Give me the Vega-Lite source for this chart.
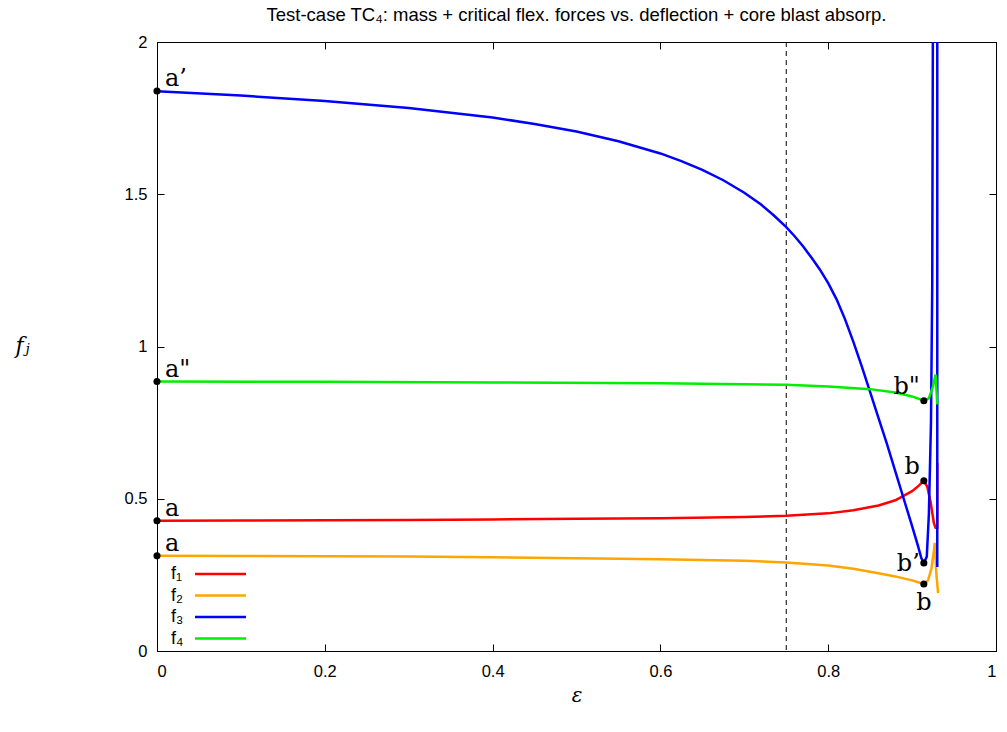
{
  "$schema": "https://vega.github.io/schema/vega-lite/v6.json",
  "width": 839,
  "height": 609,
  "autosize": "none",
  "padding": {"left": 157, "top": 42, "right": 11, "bottom": 81},
  "background": "white",
  "config": {
    "view": {"stroke": "black", "strokeWidth": 1},
    "axis": {
      "grid": false,
      "domainColor": "black",
      "tickColor": "black",
      "labelColor": "black",
      "labelFont": "Liberation Sans",
      "labelFontSize": 16.5,
      "titleColor": "black"
    }
  },
  "title": {
    "text": "Test-case TC₄: mass + critical flex. forces vs. deflection + core blast absorp.",
    "font": "Liberation Sans",
    "fontSize": 18.5,
    "fontWeight": "normal",
    "color": "black",
    "anchor": "middle",
    "offset": 10
  },
  "datasets": {
    "curves": [
      {"s": "f₁", "i": 1, "eps": 0, "f": 0.428},
      {"s": "f₁", "i": 2, "eps": 0.1, "f": 0.4285},
      {"s": "f₁", "i": 3, "eps": 0.2, "f": 0.429},
      {"s": "f₁", "i": 4, "eps": 0.3, "f": 0.430},
      {"s": "f₁", "i": 5, "eps": 0.4, "f": 0.432},
      {"s": "f₁", "i": 6, "eps": 0.5, "f": 0.434},
      {"s": "f₁", "i": 7, "eps": 0.6, "f": 0.436},
      {"s": "f₁", "i": 8, "eps": 0.7, "f": 0.440},
      {"s": "f₁", "i": 9, "eps": 0.75, "f": 0.444},
      {"s": "f₁", "i": 10, "eps": 0.8, "f": 0.452},
      {"s": "f₁", "i": 11, "eps": 0.83, "f": 0.462},
      {"s": "f₁", "i": 12, "eps": 0.86, "f": 0.478},
      {"s": "f₁", "i": 13, "eps": 0.88, "f": 0.495},
      {"s": "f₁", "i": 14, "eps": 0.9, "f": 0.525},
      {"s": "f₁", "i": 15, "eps": 0.908, "f": 0.543},
      {"s": "f₁", "i": 16, "eps": 0.914, "f": 0.559},
      {"s": "f₁", "i": 17, "eps": 0.918, "f": 0.54},
      {"s": "f₁", "i": 18, "eps": 0.922, "f": 0.49},
      {"s": "f₁", "i": 19, "eps": 0.926, "f": 0.42},
      {"s": "f₁", "i": 20, "eps": 0.928, "f": 0.405},
      {"s": "f₁", "i": 21, "eps": 0.930, "f": 0.405},
      {"s": "f₁", "i": 22, "eps": 0.930, "f": 0.617},
      {"s": "f₂", "i": 1, "eps": 0, "f": 0.3125},
      {"s": "f₂", "i": 2, "eps": 0.1, "f": 0.312},
      {"s": "f₂", "i": 3, "eps": 0.2, "f": 0.311},
      {"s": "f₂", "i": 4, "eps": 0.3, "f": 0.310},
      {"s": "f₂", "i": 5, "eps": 0.4, "f": 0.308},
      {"s": "f₂", "i": 6, "eps": 0.5, "f": 0.305},
      {"s": "f₂", "i": 7, "eps": 0.6, "f": 0.301},
      {"s": "f₂", "i": 8, "eps": 0.7, "f": 0.296},
      {"s": "f₂", "i": 9, "eps": 0.75, "f": 0.291},
      {"s": "f₂", "i": 10, "eps": 0.8, "f": 0.281},
      {"s": "f₂", "i": 11, "eps": 0.83, "f": 0.270},
      {"s": "f₂", "i": 12, "eps": 0.86, "f": 0.255},
      {"s": "f₂", "i": 13, "eps": 0.88, "f": 0.245},
      {"s": "f₂", "i": 14, "eps": 0.9, "f": 0.232},
      {"s": "f₂", "i": 15, "eps": 0.914, "f": 0.220},
      {"s": "f₂", "i": 16, "eps": 0.919, "f": 0.232},
      {"s": "f₂", "i": 17, "eps": 0.923, "f": 0.27},
      {"s": "f₂", "i": 18, "eps": 0.926, "f": 0.33},
      {"s": "f₂", "i": 19, "eps": 0.927, "f": 0.355},
      {"s": "f₂", "i": 20, "eps": 0.929, "f": 0.25},
      {"s": "f₂", "i": 21, "eps": 0.931, "f": 0.19},
      {"s": "f₃", "i": 1, "eps": 0, "f": 1.838},
      {"s": "f₃", "i": 2, "eps": 0.1, "f": 1.824},
      {"s": "f₃", "i": 3, "eps": 0.2, "f": 1.806},
      {"s": "f₃", "i": 4, "eps": 0.3, "f": 1.783},
      {"s": "f₃", "i": 5, "eps": 0.4, "f": 1.752},
      {"s": "f₃", "i": 6, "eps": 0.45, "f": 1.731},
      {"s": "f₃", "i": 7, "eps": 0.5, "f": 1.706},
      {"s": "f₃", "i": 8, "eps": 0.55, "f": 1.674},
      {"s": "f₃", "i": 9, "eps": 0.6, "f": 1.634},
      {"s": "f₃", "i": 10, "eps": 0.625, "f": 1.609},
      {"s": "f₃", "i": 11, "eps": 0.65, "f": 1.580},
      {"s": "f₃", "i": 12, "eps": 0.675, "f": 1.546},
      {"s": "f₃", "i": 13, "eps": 0.7, "f": 1.505},
      {"s": "f₃", "i": 14, "eps": 0.72, "f": 1.466},
      {"s": "f₃", "i": 15, "eps": 0.735, "f": 1.431},
      {"s": "f₃", "i": 16, "eps": 0.75, "f": 1.392},
      {"s": "f₃", "i": 17, "eps": 0.76, "f": 1.362},
      {"s": "f₃", "i": 18, "eps": 0.77, "f": 1.329},
      {"s": "f₃", "i": 19, "eps": 0.78, "f": 1.292},
      {"s": "f₃", "i": 20, "eps": 0.79, "f": 1.253},
      {"s": "f₃", "i": 21, "eps": 0.80, "f": 1.208},
      {"s": "f₃", "i": 22, "eps": 0.81, "f": 1.155},
      {"s": "f₃", "i": 23, "eps": 0.82, "f": 1.09},
      {"s": "f₃", "i": 24, "eps": 0.83, "f": 1.015},
      {"s": "f₃", "i": 25, "eps": 0.84, "f": 0.935},
      {"s": "f₃", "i": 26, "eps": 0.85, "f": 0.85},
      {"s": "f₃", "i": 27, "eps": 0.86, "f": 0.765},
      {"s": "f₃", "i": 28, "eps": 0.87, "f": 0.68},
      {"s": "f₃", "i": 29, "eps": 0.88, "f": 0.59},
      {"s": "f₃", "i": 30, "eps": 0.89, "f": 0.50},
      {"s": "f₃", "i": 31, "eps": 0.90, "f": 0.41},
      {"s": "f₃", "i": 32, "eps": 0.907, "f": 0.345},
      {"s": "f₃", "i": 33, "eps": 0.911, "f": 0.305},
      {"s": "f₃", "i": 34, "eps": 0.914, "f": 0.289},
      {"s": "f₃", "i": 35, "eps": 0.9175, "f": 0.31},
      {"s": "f₃", "i": 36, "eps": 0.92, "f": 0.45},
      {"s": "f₃", "i": 37, "eps": 0.9225, "f": 0.75},
      {"s": "f₃", "i": 38, "eps": 0.924, "f": 1.2},
      {"s": "f₃", "i": 39, "eps": 0.925, "f": 2.3},
      {"s": "f₃", "i": 40, "eps": 0.930, "f": 2.3},
      {"s": "f₃", "i": 41, "eps": 0.930, "f": 0.276},
      {"s": "f₄", "i": 1, "eps": 0, "f": 0.885},
      {"s": "f₄", "i": 2, "eps": 0.2, "f": 0.884},
      {"s": "f₄", "i": 3, "eps": 0.4, "f": 0.882},
      {"s": "f₄", "i": 4, "eps": 0.6, "f": 0.879},
      {"s": "f₄", "i": 5, "eps": 0.75, "f": 0.874},
      {"s": "f₄", "i": 6, "eps": 0.8, "f": 0.869},
      {"s": "f₄", "i": 7, "eps": 0.85, "f": 0.86},
      {"s": "f₄", "i": 8, "eps": 0.88, "f": 0.849},
      {"s": "f₄", "i": 9, "eps": 0.9, "f": 0.836},
      {"s": "f₄", "i": 10, "eps": 0.914, "f": 0.822},
      {"s": "f₄", "i": 11, "eps": 0.92, "f": 0.83},
      {"s": "f₄", "i": 12, "eps": 0.925, "f": 0.87},
      {"s": "f₄", "i": 13, "eps": 0.928, "f": 0.908},
      {"s": "f₄", "i": 14, "eps": 0.930, "f": 0.81}
    ],
    "labels": [
      {"id": "a1", "label": "a’", "eps": 0, "f": 1.839},
      {"id": "a2", "label": "a\"", "eps": 0, "f": 0.885},
      {"id": "a3", "label": "a", "eps": 0, "f": 0.428},
      {"id": "a4", "label": "a", "eps": 0, "f": 0.3125},
      {"id": "b1", "label": "b\"", "eps": 0.914, "f": 0.822},
      {"id": "b2", "label": "b", "eps": 0.914, "f": 0.559},
      {"id": "b3", "label": "b’", "eps": 0.914, "f": 0.289},
      {"id": "b4", "label": "b", "eps": 0.914, "f": 0.220}
    ]
  },
  "resolve": {"axis": {"x": "independent", "y": "independent"}},
  "layer": [
    {
      "data": {"values": [{"eps": 0.75}]},
      "mark": {"type": "rule", "color": "black", "strokeWidth": 1, "strokeDash": [5, 4]},
      "encoding": {
        "x": {"field": "eps", "type": "quantitative", "scale": {"domain": [0, 1]}, "axis": null}
      }
    },
    {
      "data": {"name": "curves"},
      "mark": {"type": "line", "strokeWidth": 2.5, "clip": true},
      "encoding": {
        "x": {
          "field": "eps", "type": "quantitative", "scale": {"domain": [0, 1]},
          "axis": {
            "orient": "bottom", "values": [0, 0.2, 0.4, 0.6, 0.8, 1], "format": "~g",
            "tickSize": -7, "labelPadding": 19, "title": "ε",
            "titleFont": "DejaVu Serif", "titleFontStyle": "italic", "titleFontWeight": "normal",
            "titleFontSize": 20, "titlePadding": 6
          }
        },
        "y": {
          "field": "f", "type": "quantitative", "scale": {"domain": [0, 2]},
          "axis": {
            "orient": "left", "values": [0, 0.5, 1, 1.5, 2], "format": "~g",
            "tickSize": -7, "labelPadding": 17, "title": "fⱼ",
            "titleFont": "DejaVu Serif", "titleFontStyle": "italic", "titleFontWeight": "normal",
            "titleFontSize": 22, "titleAngle": 0, "titleAlign": "center", "titleBaseline": "middle",
            "titleX": -135, "titleY": 303
          }
        },
        "color": {
          "field": "s", "type": "nominal",
          "scale": {"domain": ["f₁", "f₂", "f₃", "f₄"], "range": ["#ff0000", "#ffa500", "#0000ff", "#00ee00"]},
          "legend": {
            "orient": "none", "legendX": 4, "legendY": 523, "title": null,
            "symbolType": "M-4.25,0H4.25", "symbolStrokeWidth": 2.5, "symbolSize": 144,
            "symbolOffset": 50.5, "labelOffset": -58.5, "rowPadding": 3.5,
            "padding": 0, "labelFont": "Liberation Sans", "labelFontSize": 18, "labelColor": "black"
          }
        },
        "order": {"field": "i", "type": "quantitative"}
      }
    },
    {
      "data": {"name": "labels"},
      "mark": {"type": "point", "filled": true, "color": "black", "size": 50, "opacity": 1, "clip": false},
      "encoding": {
        "x": {"field": "eps", "type": "quantitative", "axis": {"orient": "top", "values": [0, 0.2, 0.4, 0.6, 0.8, 1], "labels": false, "tickSize": -7, "title": null}},
        "y": {"field": "f", "type": "quantitative", "axis": {"orient": "right", "values": [0, 0.5, 1, 1.5, 2], "labels": false, "tickSize": -7, "title": null}}
      }
    },
    {
      "data": {"name": "labels"},
      "transform": [{"filter": {"field": "id", "oneOf": ["a1", "a2", "a3", "a4"]}}],
      "mark": {"type": "text", "font": "DejaVu Serif", "fontSize": 24, "align": "left", "baseline": "alphabetic", "dx": 8, "dy": -5, "color": "black"},
      "encoding": {
        "x": {"field": "eps", "type": "quantitative", "axis": null},
        "y": {"field": "f", "type": "quantitative", "axis": null},
        "text": {"field": "label"}
      }
    },
    {
      "data": {"name": "labels"},
      "transform": [{"filter": {"field": "id", "oneOf": ["b1", "b2"]}}],
      "mark": {"type": "text", "font": "DejaVu Serif", "fontSize": 24, "align": "right", "baseline": "alphabetic", "dx": -4, "dy": -7, "color": "black"},
      "encoding": {
        "x": {"field": "eps", "type": "quantitative", "axis": null},
        "y": {"field": "f", "type": "quantitative", "axis": null},
        "text": {"field": "label"}
      }
    },
    {
      "data": {"name": "labels"},
      "transform": [{"filter": {"field": "id", "oneOf": ["b3"]}}],
      "mark": {"type": "text", "font": "DejaVu Serif", "fontSize": 24, "align": "right", "baseline": "middle", "dx": -4, "dy": 1, "color": "black"},
      "encoding": {
        "x": {"field": "eps", "type": "quantitative", "axis": null},
        "y": {"field": "f", "type": "quantitative", "axis": null},
        "text": {"field": "label"}
      }
    },
    {
      "data": {"name": "labels"},
      "transform": [{"filter": {"field": "id", "oneOf": ["b4"]}}],
      "mark": {"type": "text", "font": "DejaVu Serif", "fontSize": 24, "align": "center", "baseline": "top", "dx": 0, "dy": 7, "color": "black"},
      "encoding": {
        "x": {"field": "eps", "type": "quantitative", "axis": null},
        "y": {"field": "f", "type": "quantitative", "axis": null},
        "text": {"field": "label"}
      }
    }
  ]
}
